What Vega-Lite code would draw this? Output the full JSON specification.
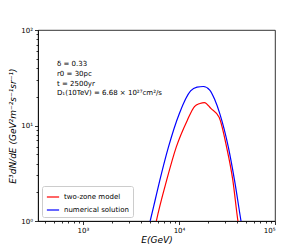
{
  "$schema": "https://vega.github.io/schema/vega-lite/v6.json",
  "autosize": {"type": "none"},
  "width": 237,
  "height": 191,
  "padding": {"left": 38, "top": 30, "right": 31, "bottom": 28},
  "background": "white",
  "config": {
    "font": "DejaVu Sans",
    "view": {"stroke": "black", "strokeWidth": 0.8},
    "axis": {"grid": false, "domainColor": "black", "domainWidth": 0.8, "tickColor": "black", "tickWidth": 0.8, "labelColor": "black", "titleColor": "black", "labelFont": "DejaVu Sans", "titleFont": "DejaVu Sans", "labelFontSize": 7, "titleFontSize": 9, "titleFontWeight": "normal", "titleFontStyle": "italic"}
  },
  "datasets": {
    "curves": [
      {"E": 4600, "v": 0.7, "s": "numerical solution"},
      {"E": 5012, "v": 1.0, "s": "numerical solution"},
      {"E": 5600, "v": 1.6, "s": "numerical solution"},
      {"E": 6310, "v": 2.66, "s": "numerical solution"},
      {"E": 7762, "v": 5.93, "s": "numerical solution"},
      {"E": 10070, "v": 13.3, "s": "numerical solution"},
      {"E": 13210, "v": 23.0, "s": "numerical solution"},
      {"E": 15400, "v": 25.2, "s": "numerical solution"},
      {"E": 17950, "v": 25.6, "s": "numerical solution"},
      {"E": 20900, "v": 23.5, "s": "numerical solution"},
      {"E": 23500, "v": 18.8, "s": "numerical solution"},
      {"E": 26600, "v": 13.3, "s": "numerical solution"},
      {"E": 32660, "v": 5.93, "s": "numerical solution"},
      {"E": 37900, "v": 2.66, "s": "numerical solution"},
      {"E": 44260, "v": 1.0, "s": "numerical solution"},
      {"E": 47000, "v": 0.7, "s": "numerical solution"},
      {"E": 5400, "v": 0.7, "s": "two-zone model"},
      {"E": 5810, "v": 1.0, "s": "two-zone model"},
      {"E": 7430, "v": 2.66, "s": "two-zone model"},
      {"E": 9360, "v": 5.93, "s": "two-zone model"},
      {"E": 12190, "v": 11.3, "s": "two-zone model"},
      {"E": 14490, "v": 15.8, "s": "two-zone model"},
      {"E": 16500, "v": 17.0, "s": "two-zone model"},
      {"E": 18410, "v": 17.4, "s": "two-zone model"},
      {"E": 21480, "v": 15.1, "s": "two-zone model"},
      {"E": 26180, "v": 12.2, "s": "two-zone model"},
      {"E": 31330, "v": 5.93, "s": "two-zone model"},
      {"E": 36390, "v": 2.66, "s": "two-zone model"},
      {"E": 41100, "v": 1.0, "s": "two-zone model"},
      {"E": 43500, "v": 0.7, "s": "two-zone model"}
    ]
  },
  "layer": [
    {
      "data": {"name": "curves"},
      "mark": {"type": "line", "strokeWidth": 1.2, "clip": true, "interpolate": "monotone"},
      "encoding": {
        "x": {"field": "E", "type": "quantitative",
              "scale": {"type": "log", "domain": [340, 100000], "nice": false},
              "axis": {"orient": "bottom", "values": [1000, 10000, 100000], "tickSize": 3.5, "title": "E(GeV)", "titlePadding": 2,
                       "labelExpr": "datum.value == 1000 ? '10³' : datum.value == 10000 ? '10⁴' : '10⁵'"}},
        "y": {"field": "v", "type": "quantitative",
              "scale": {"type": "log", "domain": [1, 100], "nice": false},
              "axis": {"orient": "left", "values": [1, 10, 100], "tickSize": 3.5, "title": "E³dN/dE (GeV²m⁻²s⁻¹sr⁻¹)", "titlePadding": 3,
                       "labelExpr": "datum.value == 1 ? '10⁰' : datum.value == 10 ? '10¹' : '10²'"}},
        "color": {"field": "s", "type": "nominal",
                  "scale": {"domain": ["two-zone model", "numerical solution"], "range": ["#ff0000", "#0000ff"]},
                  "legend": {"title": null, "orient": "bottom-left", "offset": 4, "symbolType": "stroke", "symbolSize": 150, "symbolStrokeWidth": 1.2,
                             "labelFontSize": 7, "labelFont": "DejaVu Sans", "strokeColor": "#cccccc", "fillColor": "white", "padding": 4, "cornerRadius": 2, "rowPadding": 3}}
      }
    },
    {
      "data": {"name": "curves"},
      "mark": {"type": "line", "opacity": 0, "clip": true},
      "encoding": {
        "x": {"field": "E", "type": "quantitative",
              "scale": {"type": "log", "domain": [340, 100000], "nice": false},
              "axis": {"orient": "bottom", "values": [400, 500, 600, 700, 800, 900, 2000, 3000, 4000, 5000, 6000, 7000, 8000, 9000, 20000, 30000, 40000, 50000, 60000, 70000, 80000, 90000], "tickSize": 2, "labels": false, "title": null, "domain": false}},
        "y": {"field": "v", "type": "quantitative",
              "scale": {"type": "log", "domain": [1, 100], "nice": false},
              "axis": {"orient": "left", "values": [2, 3, 4, 5, 6, 7, 8, 9, 20, 30, 40, 50, 60, 70, 80, 90], "tickSize": 2, "labels": false, "title": null, "domain": false}}
      }
    },
    {
      "data": {"values": [{}]},
      "mark": {"type": "text", "align": "left", "baseline": "top", "fontSize": 7, "lineHeight": 9.6, "color": "black",
               "text": ["δ = 0.33", "r0 = 30pc", "t = 2500yr", "D₁(10TeV) = 6.68 × 10²⁷cm²/s"]},
      "encoding": {
        "x": {"datum": 536, "type": "quantitative", "scale": {"type": "log", "domain": [340, 100000], "nice": false}, "axis": null},
        "y": {"datum": 48, "type": "quantitative", "scale": {"type": "log", "domain": [1, 100], "nice": false}, "axis": null}
      }
    }
  ],
  "resolve": {"axis": {"x": "independent", "y": "independent"}}
}
